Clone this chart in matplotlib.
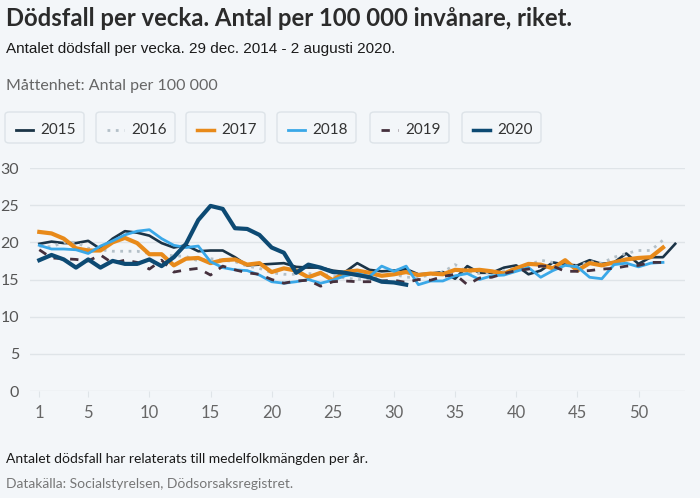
import numpy as np
import matplotlib
matplotlib.use("Agg")
import matplotlib.pyplot as plt
from matplotlib.patches import FancyBboxPatch
from matplotlib.lines import Line2D

# veckovärden, antal dödsfall per 100 000 invånare
y2015 = [19.8, 20.1, 19.9, 19.9, 20.2, 19.1, 20.5, 21.5, 21.3, 20.9,
         19.9, 19.3, 19.6, 18.8, 18.9, 18.9, 18.0, 16.9, 17.0, 17.1,
         17.2, 16.7, 16.6, 16.6, 16.2, 16.0, 17.2, 16.3, 16.1, 16.2,
         16.4, 15.7, 15.8, 16.0, 15.1, 16.8, 15.9, 15.9, 16.6, 16.9,
         15.7, 16.2, 17.3, 17.0, 16.9, 17.6, 17.1, 17.3, 18.5, 17.1,
         18.0, 18.0, 19.8]
y2016 = [19.5, 19.4, 20.0, 20.0, 19.2, 19.0, 18.8, 18.8, 18.8, 18.5,
         18.3, 18.2, 18.1, 17.5, 17.8, 17.6, 17.4, 16.8, 16.5, 15.9,
         15.7, 15.7, 15.8, 15.7, 15.5, 15.2, 15.0, 15.0, 15.5, 15.7,
         15.3, 15.3, 15.6, 16.0, 17.0, 16.0, 15.8, 16.0, 16.2, 16.5,
         16.9, 17.6, 17.3, 17.0, 16.8, 17.4, 17.2, 18.0, 18.5, 18.9,
         18.9, 20.3]
y2017 = [21.4, 21.2, 20.5, 19.2, 18.9, 18.9, 20.0, 20.6, 19.9, 18.4,
         18.4, 16.9, 17.8, 17.9, 17.2, 17.6, 17.7, 17.0, 17.2, 16.0,
         16.5, 16.2, 15.3, 15.9, 14.9, 16.0, 16.2, 15.9, 15.5, 15.7,
         16.0, 15.6, 15.8, 15.7, 16.3, 16.2, 16.3, 16.1, 15.8, 16.5,
         17.1, 17.0, 16.5, 17.6, 16.2, 17.2, 16.9, 17.3, 17.7, 17.9,
         18.0, 19.3]
y2018 = [19.6, 19.1, 19.1, 19.0, 18.5, 19.5, 20.2, 21.0, 21.5, 21.7,
         20.5, 19.6, 19.3, 19.5, 17.4, 16.6, 16.3, 16.2, 15.6, 14.7,
         14.5, 14.7, 15.0, 14.5, 14.9, 15.5, 15.8, 15.4, 16.8, 16.1,
         16.8, 14.3, 14.8, 14.8, 15.5, 15.8, 15.0, 15.5, 15.6, 16.1,
         16.6, 15.3, 16.2, 16.9, 16.7, 15.3, 15.1, 17.0, 17.2, 16.7,
         17.2, 17.3]
y2019 = [19.0, 17.9, 17.8, 17.7, 17.5, 18.3, 17.2, 17.6, 17.3, 16.4,
         17.6, 16.0, 16.3, 16.5, 15.6, 16.8, 16.3, 15.9, 15.7, 15.0,
         14.5, 14.8, 14.9, 14.1, 14.7, 14.8, 14.7, 14.7, 14.8, 14.9,
         14.6, 15.0, 14.9, 15.4, 15.7, 14.3, 15.2, 15.3, 15.8, 16.2,
         16.4, 16.8, 16.8, 16.1, 16.1, 16.2, 16.4, 16.5, 16.8, 16.9,
         17.3, 17.3]
y2020 = [17.6, 18.3, 17.7, 16.6, 17.7, 16.6, 17.5, 17.1, 17.1, 17.7,
         16.8, 18.0, 19.8, 23.0, 24.9, 24.5, 21.9, 21.8, 21.0, 19.3,
         18.6, 15.9, 17.0, 16.6, 16.0, 15.9, 15.6, 15.3, 14.7, 14.6,
         14.3]

years = ["2015", "2016", "2017", "2018", "2019", "2020"]
series = [y2015, y2016, y2017, y2018, y2019, y2020]
xticks = [1, 5, 10, 15, 20, 25, 30, 35, 40, 45, 50]

styles = [
    dict(color="#1b3447", lw=1.9, ls="-"),
    dict(color="#b4c0c8", lw=2.0, ls=(0, (1, 2))),
    dict(color="#e88a1a", lw=3.0, ls="-"),
    dict(color="#3aa8e8", lw=2.0, ls="-"),
    dict(color="#45303d", lw=2.0, ls=(0, (3, 3))),
    dict(color="#0d4a73", lw=3.0, ls="-"),
]

bg = "#f3f6f9"
fig = plt.figure(figsize=(7.0, 4.98), dpi=100, facecolor=bg)

fig.text(0.008, 0.962, "Dödsfall per vecka. Antal per 100 000 invånare, riket.",
         fontsize=17.2, fontweight="bold", color="#2b2b2b", family="Lato", va="center")
fig.text(0.008, 0.902, "Antalet dödsfall per vecka. 29 dec. 2014 - 2 augusti 2020.",
         fontsize=11, color="#1a1a1a", family="Liberation Sans", va="center")
fig.text(0.008, 0.827, "Måttenhet: Antal per 100 000",
         fontsize=11.5, color="#666666", family="Lato", va="center")

# legend boxes
box_x = [5, 96, 186, 277, 370, 462]
box_w = 79
for bx, yr, st in zip(box_x, years, styles):
    fig.patches.append(FancyBboxPatch((bx / 700, 355 / 498), box_w / 700, 31 / 498,
                                      boxstyle="round,pad=0,rounding_size=0.006",
                                      transform=fig.transFigure, facecolor=bg,
                                      edgecolor="#dde3e8", lw=1.0))
    ly = 1 - 130 / 498
    fig.lines.append(Line2D([(bx + 11) / 700, (bx + 28) / 700], [ly, ly],
                            transform=fig.transFigure, color=st["color"],
                            lw=2.5 if st["lw"] > 2 else 2.0, ls=st["ls"]))
    fig.text((bx + 35) / 700, ly, yr, fontsize=11, color="#333333",
             family="Lato", va="center")

ax = fig.add_axes([30 / 700, 107 / 498, 655 / 700, 223 / 498])
ax.set_facecolor(bg)
for yr, vals, st in zip(years, series, styles):
    w = np.arange(1, len(vals) + 1)
    ax.plot(w, vals, color=st["color"], lw=st["lw"], ls=st["ls"],
            solid_joinstyle="round", label=yr)

ax.set_xlim(0.24, 53.8)
ax.set_ylim(0, 30)
ax.set_yticks(range(0, 31, 5))
ax.set_xticks(xticks)
ax.grid(axis="y", color="#dfe4e8", lw=1.0)
ax.set_axisbelow(True)
for s in ax.spines.values():
    s.set_visible(False)
ax.tick_params(axis="y", length=0, pad=8, labelsize=11.5, labelcolor="#555555")
ax.tick_params(axis="x", length=4, color="#dfe4e8", pad=6, labelsize=12, labelcolor="#666666")
for lab in ax.get_xticklabels() + ax.get_yticklabels():
    lab.set_family("Lato")

fig.text(0.008, 1 - 459 / 498, "Antalet dödsfall har relaterats till medelfolkmängden per år.",
         fontsize=10, color="#1a1a1a", family="Lato", va="center")
fig.text(0.008, 1 - 484 / 498, "Datakälla: Socialstyrelsen, Dödsorsaksregistret.",
         fontsize=10, color="#777777", family="Lato", va="center")

fig.savefig("out.png", dpi=100, facecolor=bg)
